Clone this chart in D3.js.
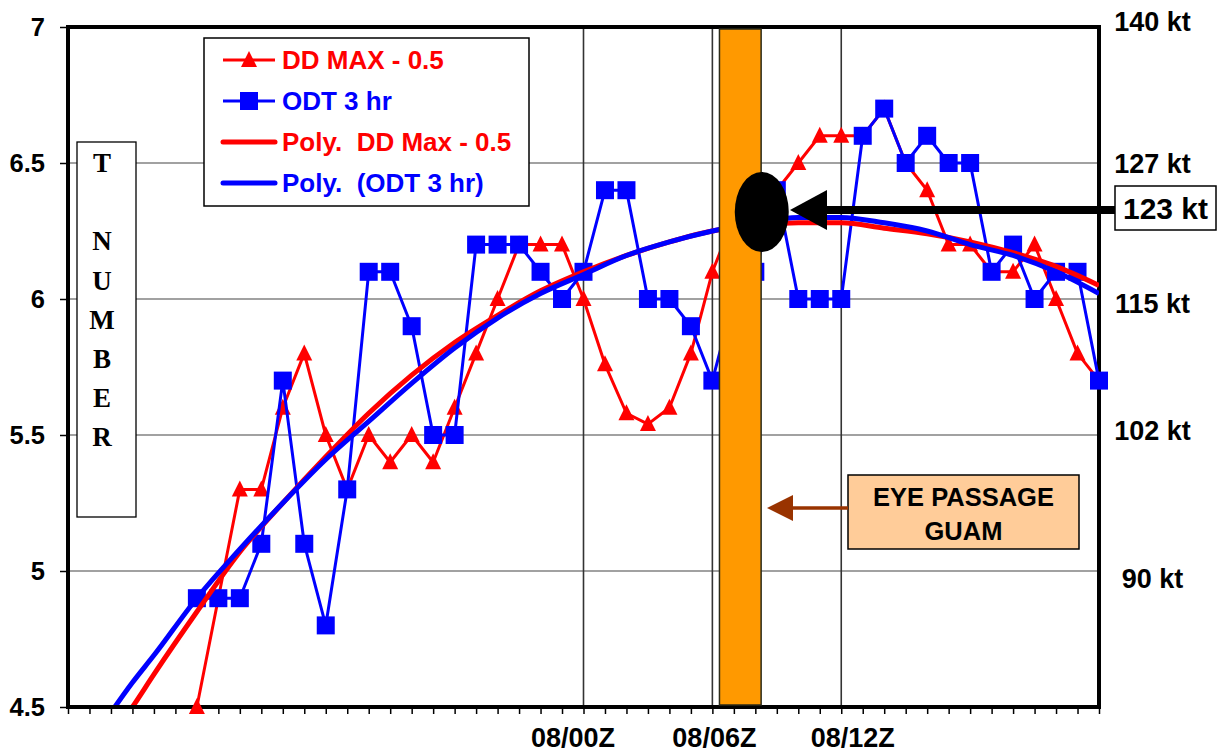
<!DOCTYPE html>
<html>
<head>
<meta charset="utf-8">
<script src="https://cdn.jsdelivr.net/npm/d3@7"></script>
<style>
  body { margin: 0; background: #fff; }
  svg text { font-family: "Liberation Sans", Arial, sans-serif; font-weight: bold; }
</style>
</head>
<body>
<svg id="chart" width="1225" height="752"></svg>
<script>
// Hours after 07/00Z, one estimate per hour
const hours = d3.range(6, 49);
const ddMaxMinusHalf = [
  4.5, 4.9, 5.3, 5.3, 5.6, 5.8, 5.5, 5.3, 5.5, 5.4,
  5.5, 5.4, 5.6, 5.8, 6.0, 6.2, 6.2, 6.2, 6.0, 5.76,
  5.58, 5.54, 5.6, 5.8, 6.1, 6.3, 6.3, 6.4, 6.5, 6.6,
  6.6, 6.6, 6.7, 6.5, 6.4, 6.2, 6.2, 6.1, 6.1, 6.2,
  6.0, 5.8, 5.7
];
const odt3hr = [
  4.9, 4.9, 4.9, 5.1, 5.7, 5.1, 4.8, 5.3, 6.1, 6.1,
  5.9, 5.5, 5.5, 6.2, 6.2, 6.2, 6.1, 6.0, 6.1, 6.4,
  6.4, 6.0, 6.0, 5.9, 5.7, 6.0, 6.1, 6.4, 6.0, 6.0,
  6.0, 6.6, 6.7, 6.5, 6.6, 6.5, 6.5, 6.1, 6.2, 6.0,
  6.1, 6.1, 5.7
];

// Polynomial trend curves, sampled every couple of hours
const trendHours = [2, 3, 4, 6, 8, 10, 12, 14, 16, 18, 20, 22, 24, 26, 28, 30, 32, 34, 36, 38, 40, 42, 44, 46, 48];
const ddMaxTrend = [
  4.39, 4.50, 4.62, 4.85, 5.07, 5.25, 5.42, 5.58, 5.72, 5.84, 5.94, 6.03, 6.10,
  6.16, 6.21, 6.25, 6.27, 6.28, 6.28, 6.26, 6.24, 6.21, 6.17, 6.12, 6.05
];
const odtTrend = [
  4.48, 4.59, 4.69, 4.90, 5.08, 5.25, 5.41, 5.55, 5.69, 5.82, 5.93, 6.02, 6.09,
  6.16, 6.21, 6.25, 6.28, 6.30, 6.30, 6.28, 6.25, 6.20, 6.16, 6.10, 6.02
];

const yTicks = [4.5, 5, 5.5, 6, 6.5, 7];
const yTickLabels = ["4.5", "5", "5.5", "6", "6.5", "7"];
const timeTickHours = [24, 30, 36];
const timeTickLabels = ["08/00Z", "08/06Z", "08/12Z"];
const ktLabels = ["140 kt", "127 kt", "115 kt", "102 kt", "90 kt"];
const ktAtTNumber = [7, 6.5, 6, 5.5, 5];
const legendLabels = ["DD MAX - 0.5", "ODT 3 hr", "Poly.  DD Max - 0.5", "Poly.  (ODT 3 hr)"];

// Eye passage over Guam (hours) and the estimate at that time
const eyePassageHours = [30.33, 32.27];
const estimateHour = 32.3;
const estimateT = 6.32;
const estimateLabel = "123 kt";
const eyeLabelLines = ["EYE PASSAGE", "GUAM"];
const axisTitleLetters = ["T", "", "N", "U", "M", "B", "E", "R"];

const RED = "#ff0000", BLUE = "#0000ff";
const svg = d3.select("#chart");

const pLeft = 68, pRight = 1099, pTop = 27, pBottom = 707;
const x = d3.scaleLinear().domain([0, 48]).range([pLeft, pRight]);
const y = d3.scaleLinear().domain([4.5, 7]).range([pBottom, pTop]);

// clip for trendlines
svg.append("defs").append("clipPath").attr("id", "plotClip")
  .append("rect").attr("x", pLeft).attr("y", pTop + 2)
  .attr("width", pRight - pLeft).attr("height", pBottom - pTop - 4);

// horizontal gridlines
svg.append("g").selectAll("line").data(yTicks.filter(v => v > 4.5 && v < 7)).join("line")
  .attr("x1", pLeft).attr("x2", pRight)
  .attr("y1", d => y(d)).attr("y2", d => y(d))
  .attr("stroke", "#444").attr("stroke-width", 1.2);

// vertical gridlines at labelled times
svg.append("g").selectAll("line").data(timeTickHours).join("line")
  .attr("x1", d => x(d)).attr("x2", d => x(d))
  .attr("y1", pTop).attr("y2", pBottom)
  .attr("stroke", "#333").attr("stroke-width", 1.6);

// left axis
const yAxis = svg.append("g").attr("transform", `translate(${pLeft},0)`)
  .call(d3.axisLeft(y).tickValues(yTicks).tickSize(8).tickPadding(15)
    .tickFormat((d, i) => yTickLabels[i]));
yAxis.select(".domain").remove();
yAxis.selectAll("line").attr("stroke", "#000").attr("stroke-width", 1.5);
yAxis.selectAll("text").attr("font-size", 25.5).attr("fill", "#000")
  .style("font-family", "Liberation Sans, Arial, sans-serif").style("font-weight", "bold");

// bottom axis, a minor tick every hour
const labelNudge = [-11, 1.5, 11];
const xAxis = svg.append("g").attr("transform", `translate(0,${pBottom})`)
  .call(d3.axisBottom(x).tickValues(d3.range(0, 49)).tickSize(7)
    .tickFormat(d => {
      const i = timeTickHours.indexOf(d);
      return i >= 0 ? timeTickLabels[i] : "";
    }));
xAxis.select(".domain").remove();
xAxis.selectAll("line").attr("stroke", "#000").attr("stroke-width", 1.5);
xAxis.selectAll("text").attr("font-size", 27).attr("fill", "#000")
  .style("font-family", "Liberation Sans, Arial, sans-serif").style("font-weight", "bold")
  .attr("y", 40).attr("dy", 0)
  .attr("dx", d => { const i = timeTickHours.indexOf(d); return i >= 0 ? labelNudge[i] : 0; });

// plot frame
svg.append("rect").attr("x", pLeft).attr("y", pTop)
  .attr("width", pRight - pLeft).attr("height", pBottom - pTop)
  .attr("fill", "none").attr("stroke", "#000").attr("stroke-width", 4);

// right side wind speed labels
const ktNudge = [-6, 0, 4, -5, 7];
svg.append("g").selectAll("text").data(ktLabels).join("text")
  .attr("x", 1152.5).attr("y", (d, i) => y(ktAtTNumber[i]) + ktNudge[i] + 9.5)
  .attr("text-anchor", "middle").attr("font-size", 27).attr("fill", "#000")
  .text(d => d);

// series
const redPts = hours.map((h, i) => [h, ddMaxMinusHalf[i]]);
const bluePts = hours.map((h, i) => [h, odt3hr[i]]);
const line = d3.line().x(d => x(d[0])).y(d => y(d[1]));
const triPath = "M0,-9L8,7L-8,7Z";

svg.append("path").datum(redPts).attr("d", line)
  .attr("fill", "none").attr("stroke", RED).attr("stroke-width", 3).attr("stroke-linejoin", "round");
svg.append("g").selectAll("path").data(redPts).join("path")
  .attr("d", triPath).attr("transform", d => `translate(${x(d[0])},${y(d[1])})`)
  .attr("fill", RED);

svg.append("path").datum(bluePts).attr("d", line)
  .attr("fill", "none").attr("stroke", BLUE).attr("stroke-width", 3).attr("stroke-linejoin", "round");
svg.append("g").selectAll("rect").data(bluePts).join("rect")
  .attr("x", d => x(d[0]) - 9).attr("y", d => y(d[1]) - 9)
  .attr("width", 18).attr("height", 18).attr("fill", BLUE);

// polynomial trendlines
const smooth = d3.line().x(d => x(d[0])).y(d => y(d[1])).curve(d3.curveMonotoneX);
const trendG = svg.append("g").attr("clip-path", "url(#plotClip)");
trendG.append("path").datum(trendHours.map((h, i) => [h, ddMaxTrend[i]])).attr("d", smooth)
  .attr("fill", "none").attr("stroke", RED).attr("stroke-width", 5);
trendG.append("path").datum(trendHours.map((h, i) => [h, odtTrend[i]])).attr("d", smooth)
  .attr("fill", "none").attr("stroke", BLUE).attr("stroke-width", 5);

// eye passage bar
svg.append("rect")
  .attr("x", x(eyePassageHours[0])).attr("y", pTop + 2)
  .attr("width", x(eyePassageHours[1]) - x(eyePassageHours[0])).attr("height", pBottom - pTop - 4)
  .attr("fill", "#ff9900").attr("stroke", "#2a2a1a").attr("stroke-width", 1.5);

// legend
const legend = svg.append("g");
legend.append("rect").attr("x", 204).attr("y", 38).attr("width", 325).attr("height", 168)
  .attr("fill", "#fff").attr("stroke", "#000").attr("stroke-width", 1.5);
const legendColors = [RED, BLUE, RED, BLUE];
const legendWidths = [3, 3, 5, 5];
legendLabels.forEach((lab, i) => {
  const cy = 60 + i * 41;
  legend.append("line").attr("x1", 223).attr("x2", 275).attr("y1", cy).attr("y2", cy)
    .attr("stroke", legendColors[i]).attr("stroke-width", legendWidths[i]).attr("stroke-linecap", i > 1 ? "round" : "butt");
  if (i === 0) legend.append("path").attr("d", triPath).attr("transform", `translate(249,${cy})`).attr("fill", RED);
  if (i === 1) legend.append("rect").attr("x", 240).attr("y", cy - 9).attr("width", 18).attr("height", 18).attr("fill", BLUE);
  legend.append("text").attr("x", 282).attr("y", cy + 8.5).attr("font-size", 26)
    .attr("fill", legendColors[i]).style("white-space", "pre").text(lab);
});

// "T NUMBER" axis title box
const tBox = svg.append("g");
tBox.append("rect").attr("x", 77).attr("y", 142).attr("width", 59).attr("height", 375)
  .attr("fill", "#fff").attr("stroke", "#000").attr("stroke-width", 1.3);
tBox.selectAll("text").data(axisTitleLetters).join("text")
  .attr("x", 102).attr("y", (d, i) => 172 + i * 39.2)
  .attr("text-anchor", "middle").attr("font-size", 27)
  .style("font-family", "'Liberation Serif', 'Times New Roman', serif").style("font-weight", "bold")
  .attr("fill", "#000")
  .text(d => d);

// estimate marker: ellipse, arrow and label box
const ey = y(estimateT);
svg.append("ellipse").attr("cx", x(estimateHour)).attr("cy", ey).attr("rx", 27).attr("ry", 40).attr("fill", "#000");
svg.append("line").attr("x1", 826).attr("x2", 1116).attr("y1", ey - 2).attr("y2", ey - 2)
  .attr("stroke", "#000").attr("stroke-width", 8);
svg.append("path").attr("d", `M790,${ey - 2}L827,${ey - 22}L827,${ey + 18}Z`).attr("fill", "#000");
svg.append("rect").attr("x", 1115).attr("y", 186).attr("width", 101).attr("height", 44)
  .attr("fill", "#fff").attr("stroke", "#000").attr("stroke-width", 1.5);
svg.append("text").attr("x", 1165.5).attr("y", 219).attr("text-anchor", "middle")
  .attr("font-size", 30).attr("fill", "#000").text(estimateLabel);

// eye passage annotation
svg.append("rect").attr("x", 848).attr("y", 475).attr("width", 231).attr("height", 74)
  .attr("fill", "#ffcc99").attr("stroke", "#000").attr("stroke-width", 1.5);
svg.append("g").selectAll("text").data(eyeLabelLines).join("text")
  .attr("x", 963.5).attr("y", (d, i) => 506 + i * 34)
  .attr("text-anchor", "middle").attr("font-size", 25.5).attr("fill", "#000").text(d => d);
svg.append("line").attr("x1", 790).attr("x2", 848).attr("y1", 508).attr("y2", 508)
  .attr("stroke", "#993300").attr("stroke-width", 3.5);
svg.append("path").attr("d", "M767,508L793,495L793,521Z").attr("fill", "#993300");
</script>
</body>
</html>
